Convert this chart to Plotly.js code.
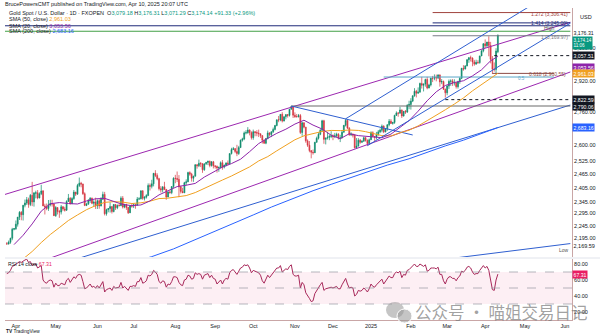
<!DOCTYPE html>
<html><head><meta charset="utf-8">
<script src="https://cdn.plot.ly/plotly-3.0.1.min.js"></script>
<style>html,body{margin:0;padding:0;background:#fff}#chart{width:600px;height:334px}</style>
</head><body><div id="chart"></div><script>
// ---------- DATA ----------
const dates = [
'2024-03-25','2024-03-26','2024-03-27','2024-03-28','2024-03-29',
'2024-04-01','2024-04-02','2024-04-03','2024-04-04','2024-04-05',
'2024-04-08','2024-04-09','2024-04-10','2024-04-11','2024-04-12',
'2024-04-15','2024-04-16','2024-04-17','2024-04-18','2024-04-19',
'2024-04-22','2024-04-23','2024-04-24','2024-04-25','2024-04-26',
'2024-04-29','2024-04-30','2024-05-01','2024-05-02','2024-05-03',
'2024-05-06','2024-05-07','2024-05-08','2024-05-09','2024-05-10',
'2024-05-13','2024-05-14','2024-05-15','2024-05-16','2024-05-17',
'2024-05-20','2024-05-21','2024-05-22','2024-05-23','2024-05-24',
'2024-05-27','2024-05-28','2024-05-29','2024-05-30','2024-05-31',
'2024-06-03','2024-06-04','2024-06-05','2024-06-06','2024-06-07',
'2024-06-10','2024-06-11','2024-06-12','2024-06-13','2024-06-14',
'2024-06-17','2024-06-18','2024-06-19','2024-06-20','2024-06-21',
'2024-06-24','2024-06-25','2024-06-26','2024-06-27','2024-06-28',
'2024-07-01','2024-07-02','2024-07-03','2024-07-04','2024-07-05',
'2024-07-08','2024-07-09','2024-07-10','2024-07-11','2024-07-12',
'2024-07-15','2024-07-16','2024-07-17','2024-07-18','2024-07-19',
'2024-07-22','2024-07-23','2024-07-24','2024-07-25','2024-07-26',
'2024-07-29','2024-07-30','2024-07-31','2024-08-01','2024-08-02',
'2024-08-05','2024-08-06','2024-08-07','2024-08-08','2024-08-09',
'2024-08-12','2024-08-13','2024-08-14','2024-08-15','2024-08-16',
'2024-08-19','2024-08-20','2024-08-21','2024-08-22','2024-08-23',
'2024-08-26','2024-08-27','2024-08-28','2024-08-29','2024-08-30',
'2024-09-02','2024-09-03','2024-09-04','2024-09-05','2024-09-06',
'2024-09-09','2024-09-10','2024-09-11','2024-09-12','2024-09-13',
'2024-09-16','2024-09-17','2024-09-18','2024-09-19','2024-09-20',
'2024-09-23','2024-09-24','2024-09-25','2024-09-26','2024-09-27',
'2024-09-30','2024-10-01','2024-10-02','2024-10-03','2024-10-04',
'2024-10-07','2024-10-08','2024-10-09','2024-10-10','2024-10-11',
'2024-10-14','2024-10-15','2024-10-16','2024-10-17','2024-10-18',
'2024-10-21','2024-10-22','2024-10-23','2024-10-24','2024-10-25',
'2024-10-28','2024-10-29','2024-10-30','2024-10-31','2024-11-01',
'2024-11-04','2024-11-05','2024-11-06','2024-11-07','2024-11-08',
'2024-11-11','2024-11-12','2024-11-13','2024-11-14','2024-11-15',
'2024-11-18','2024-11-19','2024-11-20','2024-11-21','2024-11-22',
'2024-11-25','2024-11-26','2024-11-27','2024-11-28','2024-11-29',
'2024-12-02','2024-12-03','2024-12-04','2024-12-05','2024-12-06',
'2024-12-09','2024-12-10','2024-12-11','2024-12-12','2024-12-13',
'2024-12-16','2024-12-17','2024-12-18','2024-12-19','2024-12-20',
'2024-12-23','2024-12-24','2024-12-26','2024-12-27',
'2024-12-30','2024-12-31','2025-01-02','2025-01-03',
'2025-01-06','2025-01-07','2025-01-08','2025-01-09','2025-01-10',
'2025-01-13','2025-01-14','2025-01-15','2025-01-16','2025-01-17',
'2025-01-20','2025-01-21','2025-01-22','2025-01-23','2025-01-24',
'2025-01-27','2025-01-28','2025-01-29','2025-01-30','2025-01-31',
'2025-02-03','2025-02-04','2025-02-05','2025-02-06','2025-02-07',
'2025-02-10','2025-02-11','2025-02-12','2025-02-13','2025-02-14',
'2025-02-17','2025-02-18','2025-02-19','2025-02-20','2025-02-21',
'2025-02-24','2025-02-25','2025-02-26','2025-02-27','2025-02-28',
'2025-03-03','2025-03-04','2025-03-05','2025-03-06','2025-03-07',
'2025-03-10','2025-03-11','2025-03-12','2025-03-13','2025-03-14',
'2025-03-17','2025-03-18','2025-03-19','2025-03-20','2025-03-21',
'2025-03-24','2025-03-25','2025-03-26','2025-03-27','2025-03-28',
'2025-03-31','2025-04-01','2025-04-02','2025-04-03','2025-04-04',
'2025-04-07','2025-04-08','2025-04-09','2025-04-10'];

const open = [
2172,2171,2178,2194,2230, 2232,2251,2280,2300,2290, 2330,2339,2353,2333,2372, 2344,2381,2383,2361,2379,
2391,2327,2322,2316,2332, 2337,2335,2286,2320,2303, 2301,2323,2314,2309,2346, 2360,2336,2358,2386,2377,
2415,2425,2421,2379,2329, 2334,2350,2360,2338,2343, 2327,2349,2327,2355,2376, 2294,2311,2316,2324,2303,
2333,2319,2329,2328,2360, 2322,2334,2320,2298,2327, 2326,2332,2330,2356,2357, 2392,2359,2364,2371,2415,
2411,2422,2469,2459,2445, 2401,2396,2409,2397,2365, 2387,2384,2410,2447,2446, 2442,2409,2389,2383,2427,
2431,2472,2465,2447,2456, 2508,2503,2514,2512,2485, 2512,2518,2524,2504,2521, 2503,2500,2493,2495,2517,
2497,2506,2516,2512,2559, 2578,2582,2569,2559,2587, 2622,2628,2657,2658,2671, 2658,2634,2663,2659,2656,
2653,2644,2622,2608,2630, 2657,2649,2662,2674,2693, 2721,2720,2748,2715,2736, 2747,2743,2774,2788,2744,
2737,2736,2742,2659,2706, 2685,2619,2598,2573,2565, 2563,2612,2631,2650,2670, 2716,2626,2633,2636,2640,
2643,2639,2643,2650,2632, 2633,2660,2694,2718,2680, 2648,2652,2646,2586,2594, 2622,2612,2617,2634,
2621,2606,2624,2658, 2640,2636,2649,2662,2670, 2690,2662,2677,2697,2714, 2703,2708,2743,2755,2754,
2770,2740,2763,2760,2794, 2798,2815,2842,2866,2856, 2861,2907,2897,2904,2928, 2883,2899,2935,2934,2939,
2936,2952,2915,2917,2876, 2858,2893,2918,2920,2910, 2911,2890,2916,2934,2988, 2984,3001,3035,3046,3044,
3023,3011,3020,3019,3056, 3085,3124,3113,3134,3114, 3037,2983,2982,3079.18];

const high = [
2179,2185,2196,2236,2234, 2266,2280,2305,2305,2330, 2354,2365,2362,2378,2431, 2384,2392,2395,2385,2418,
2395,2336,2337,2352,2353, 2353,2336,2326,2320,2310, 2331,2326,2323,2351,2378, 2364,2364,2395,2387,2422,
2450,2431,2423,2385,2340, 2356,2364,2362,2351,2362, 2354,2355,2364,2388,2387, 2315,2317,2342,2325,2335,
2334,2333,2335,2368,2369, 2334,2335,2323,2329,2339, 2337,2335,2365,2364,2392, 2393,2368,2377,2424,2424,
2440,2470,2483,2469,2449, 2412,2411,2431,2400,2389, 2393,2412,2451,2462,2477, 2461,2413,2405,2431,2442,
2476,2478,2471,2458,2509, 2509,2531,2520,2515,2513, 2521,2526,2526,2524,2525, 2504,2504,2500,2523,2529,
2508,2518,2527,2560,2586, 2590,2585,2600,2595,2625, 2634,2664,2670,2685,2674, 2665,2673,2665,2670,2673,
2654,2645,2625,2633,2668, 2660,2665,2683,2696,2722, 2740,2749,2759,2738,2748, 2749,2775,2790.06,2789,2758,
2750,2750,2750,2711,2709, 2686,2626,2618,2575,2578, 2614,2639,2660,2675,2721, 2721,2634,2661,2649,2665,
2650,2657,2658,2656,2648, 2668,2695,2726,2722,2685, 2660,2653,2652,2632,2632, 2628,2622,2639,2637,
2626,2630,2665,2665, 2642,2662,2671,2678,2698, 2694,2679,2698,2725,2724, 2711,2746,2763,2758,2786,
2772,2765,2770,2799,2817, 2830,2845,2882,2873,2886, 2911,2942,2906,2932,2942, 2905,2936,2947,2955,2954,
2956,2955,2930,2922,2880, 2898,2928,2929,2930,2929, 2913,2921,2940,2990,3005, 3005,3038,3050,3057.51,3048,
3034,3035,3032,3055,3087, 3128,3149,3135,3167,3135, 3055,3020,3099,3176.31];

const low = [
2170.5,2169.59,2172,2186,2226, 2228,2241,2268,2267,2266, 2321,2331,2319,2326,2326, 2324,2359,2355,2359,2373,
2326,2291,2309,2306,2325, 2324,2285,2281,2291,2277, 2291,2306,2303,2306,2345, 2333,2335,2353,2369,2375,
2408,2407,2374,2326,2326, 2333,2340,2334,2323,2314, 2314,2315,2325,2353,2287, 2286,2300,2299,2295,2300,
2310,2313,2325,2327,2316, 2317,2310,2293,2297,2319, 2318,2315,2330,2353,2355, 2353,2350,2358,2370,2393,
2402,2411,2452,2438,2393, 2384,2385,2397,2353,2364, 2379,2377,2404,2425,2430, 2364,2380,2382,2382,2415,
2430,2458,2432,2431,2455, 2490,2497,2497,2471,2480, 2507,2506,2496,2499,2491, 2490,2472,2476,2493,2485,
2491,2500,2505,2510,2555, 2575,2561,2547,2553,2586, 2615,2622,2650,2653,2645, 2625,2624,2641,2641,2637,
2633,2606,2604,2603,2626, 2640,2637,2657,2669,2689, 2709,2714,2708,2713,2723, 2732,2737,2772,2730,2731,
2733,2733,2652,2643,2679, 2610,2590,2565,2537,2554, 2562,2611,2625,2646,2662, 2605,2602,2625,2622,2632,
2622,2632,2637,2625,2613, 2631,2659,2688,2677,2643, 2642,2635,2583,2584,2592, 2605,2610,2615,2615,
2596,2605,2623,2636, 2614,2626,2643,2656,2660, 2656,2660,2667,2689,2701, 2697,2701,2741,2736,2752,
2730,2737,2750,2755,2774, 2772,2810,2838,2834,2853, 2860,2880,2865,2890,2876, 2881,2891,2914,2924,2918,
2930,2890,2903,2874,2833, 2845,2878,2894,2894,2896, 2880,2880,2905,2930,2975, 2982,2999,3018,3025,2999,
3002,3007,3012,3013,3055, 3076,3100,3105,3054,3015, 2957,2970,2957,3071.29];

const close = [
2171,2178,2194,2230,2233, 2251,2280,2300,2290,2330, 2339,2353,2333,2372,2344, 2383,2383,2361,2379,2391,
2327,2322,2316,2332,2337, 2335,2286,2320,2303,2301, 2323,2314,2309,2346,2360, 2336,2358,2386,2377,2415,
2425,2421,2379,2329,2334, 2350,2360,2338,2343,2327, 2349,2327,2355,2376,2294, 2311,2316,2324,2303,2333,
2319,2329,2328,2360,2322, 2334,2320,2298,2327,2326, 2332,2330,2356,2357,2392, 2359,2364,2371,2415,2411,
2422,2469,2459,2445,2401, 2396,2409,2397,2365,2387, 2384,2410,2447,2446,2442, 2409,2389,2383,2427,2431,
2472,2465,2447,2456,2508, 2503,2514,2512,2485,2512, 2518,2524,2504,2521,2503, 2500,2493,2495,2517,2497,
2506,2516,2512,2559,2578, 2582,2569,2559,2587,2622, 2628,2657,2658,2671,2658, 2634,2663,2659,2656,2653,
2644,2622,2608,2630,2657, 2649,2662,2674,2693,2721, 2720,2748,2715,2736,2747, 2743,2774,2788,2744,2736,
2736,2742,2659,2706,2685, 2619,2598,2573,2565,2563, 2612,2631,2650,2670,2716, 2626,2633,2636,2640,2643,
2639,2643,2650,2632,2633, 2660,2694,2718,2680,2648, 2652,2646,2586,2594,2622, 2612,2617,2634,2621,
2606,2624,2658,2640, 2636,2649,2662,2670,2690, 2662,2677,2697,2714,2703, 2708,2743,2755,2754,2770,
2740,2763,2760,2794,2798, 2815,2842,2866,2856,2861, 2907,2897,2904,2928,2883, 2899,2935,2934,2939,2936,
2952,2915,2917,2876,2858, 2893,2918,2920,2910,2911, 2890,2916,2934,2988,2984, 3001,3035,3046,3044,3023,
3011,3020,3019,3056,3085, 3124,3113,3134,3114,3037, 2983,2982,3082.81,3174.14];

const rsi = [
68,69,72,77,78, 80,82,83,82,84, 85,86,82,83,78, 80,80,75,77,78,
60,57,56,59,60, 59,51,56,53,53, 56,55,54,60,62, 57,61,64,62,66,
67,66,58,49,50, 53,55,51,52,50, 53,50,55,58,45, 48,49,50,47,52,
50,51,51,57,50, 52,50,47,52,52, 53,52,58,58,63, 56,57,59,66,65,
67,72,70,67,58, 56,59,58,51,55, 54,58,64,64,63, 57,54,53,60,61,
66,65,61,62,69, 67,68,67,61,66, 67,68,63,66,62, 61,55,57,60,55,
60,62,61,69,72, 73,70,67,71,75, 76,79,78,79,75, 69,72,71,70,69,
66,59,56,61,66, 63,66,68,71,75, 75,78,70,72,74, 73,77,79,67,65,
65,66,50,57,54, 44,41,37,33,34, 43,47,51,54,57, 47,49,50,50,51,
50,51,52,49,49, 54,59,62,55,50, 51,50,40,42,47, 46,47,50,48,
45,49,55,52, 51,54,56,58,61, 55,58,61,65,63, 63,68,70,69,71,
63,67,66,72,73, 75,78,80,77,77, 80,78,77,79,71, 72,75,75,75,74,
76,67,67,59,55, 61,64,64,62,62, 59,63,65,71,70, 72,76,77,75,70,
67,68,68,72,75, 78,75,77,72,59, 48,47,60,67.31];

// moving averages
const smaDates = ['2024-03-29','2024-04-05','2024-04-12','2024-04-19','2024-04-26','2024-05-03','2024-05-10','2024-05-17','2024-05-24','2024-05-31',
'2024-06-07','2024-06-14','2024-06-21','2024-06-28','2024-07-05','2024-07-12','2024-07-19','2024-07-26','2024-08-02','2024-08-09',
'2024-08-16','2024-08-23','2024-08-30','2024-09-06','2024-09-13','2024-09-20','2024-09-27','2024-10-04','2024-10-11','2024-10-18',
'2024-10-25','2024-11-01','2024-11-08','2024-11-15','2024-11-22','2024-11-29','2024-12-06','2024-12-13','2024-12-20','2024-12-27',
'2025-01-03','2025-01-10','2025-01-17','2025-01-24','2025-01-31','2025-02-07','2025-02-14','2025-02-21','2025-02-28','2025-03-07',
'2025-03-14','2025-03-21','2025-03-28','2025-04-04','2025-04-10'];
const sma20 = [2169,2206,2252,2305,2336,2341,2337,2335,2348,2357, 2359,2345,2333,2328,2331,2348,2374,2392,2410,2416,
2424,2452,2474,2497,2513,2533,2568,2606,2631,2655, 2675,2700,2719,2695,2676,2646,2629,2653,2644,2641,
2638,2634,2651,2683,2717,2764,2817,2863,2896,2912, 2921,2947,2980,3029,3053.56];
const sma50 = [2085,2112,2142,2177,2209,2237,2266,2289,2311,2328, 2342,2345,2343,2337,2340,2347,2358,2360,2365,2371,
2384,2403,2421,2439,2457,2477,2498,2525,2545,2572, 2599,2624,2643,2652,2664,2669,2668,2671,2669,2663,
2653,2644,2642,2658,2670,2691,2717,2742,2771,2800, 2831,2868,2902,2938,2961.03];
const sma200Dates = ['2024-06-28','2024-07-15','2024-07-31','2024-08-15','2024-08-30','2024-09-16','2024-10-01','2024-10-15','2024-10-31','2024-11-15',
'2024-11-29','2024-12-13','2024-12-31','2025-01-15','2025-01-31','2025-02-14','2025-02-28','2025-03-14','2025-03-31','2025-04-10'];
const sma200 = [2100,2122,2152,2185,2218,2255,2289,2322,2360,2392,2420,2447,2478,2506,2535,2565,2595,2622,2658,2683.16];

// drawn trend lines: [start date, end date], [start price, end price]
const purpleUpperX = ['2024-03-22','2025-06-05'], purpleUpperY = [2376, 3249];
const purpleLowerX = ['2024-03-22','2025-06-05'], purpleLowerY = [2055, 2968];
const blueAX = ['2024-03-22','2025-06-05'], blueAY = [2029, 2795];
const blueCX = ['2024-03-22','2025-06-05'], blueCY = [1911, 2173];
const blueDownX = ['2024-10-30','2025-02-04'], blueDownY = [2790.06, 2647];
const steepUpperX = ['2024-12-11','2025-06-05'], steepUpperY = [2726, 3499];
const steepLowerX = ['2024-12-30','2025-06-05'], steepLowerY = [2596, 3243];
const level2790X = ['2024-10-30','2025-06-05'], level2790Y = [2790.06, 2790.06];
const level2822X = ['2025-02-28','2025-06-05'], level2822Y = [2822.59, 2822.59];
const level3057X = ['2025-04-08','2025-06-05'], level3057Y = [3057.51, 3057.51];
const fibTopX = ['2025-02-19','2025-06-05'];
const fib1272Y = [3306.41, 3306.41];
const fib1414Y = [3245, 3245];
const navyLongX = ['2024-03-22','2025-06-05'], navyLongY = [3228, 3228];
const greenLongX = ['2024-03-22','2025-06-05'], greenLongY = [3196, 3196];
const fibHighX = ['2025-02-19','2025-06-05'], fibHighY = [3169.97, 3169.97];
const fib618X = ['2025-04-07','2025-05-23'], fib618Y = [2960.55, 2960.55];
const fibTealX = ['2025-01-13','2025-05-23'], fibTealY = [2941, 2941];

const tickDates = ['2024-04-01','2024-05-01','2024-06-03','2024-07-01','2024-08-01','2024-09-02','2024-10-01','2024-11-01','2024-12-02','2025-01-02','2025-02-03','2025-03-03','2025-04-01','2025-05-01','2025-06-02'];
const tickLabels = ['Apr','May','Jun','Jul','Aug','Sep','Oct','Nov','Dec','2025','Feb','Mar','Apr','May','Jun'];
const priceTicks = [2195,2245,2295,2345,2405,2465,2525,2600,2760,2920,3100];
const rsiTicks = [20,40,60,80];

// ---------- CHART ----------
const fmt = v => v.toLocaleString('en-US',{minimumFractionDigits:2, maximumFractionDigits:2});
const FONT = 'Liberation Sans, Arial, sans-serif';
const W = 567, H = 312, L0 = 5, B0 = 320;
const px = x => (x - L0) / W;       // label placement helpers (text only)
const py = y => (B0 - y) / H;

function line(x, y, color, width, dash, yaxis) {
  return {type:'scatter', mode:'lines', x:x, y:y, xaxis:'x', yaxis:yaxis||'y',
    line:{color:color, width:width||1, dash:dash||'solid'}, hoverinfo:'skip'};
}

const traces = [
  line(blueCX, blueCY, '#2f5fd0', 1),
  line(blueAX, blueAY, '#2f5fd0', 1),
  line(sma200Dates, sma200, '#2962ff', 1),
  line(purpleLowerX, purpleLowerY, '#9c27b0', 1),
  line(purpleUpperX, purpleUpperY, '#9c27b0', 1),
  line(navyLongX, navyLongY, '#1f2a78', 1),
  line(greenLongX, greenLongY, '#43a047', 1),
  line(fibTopX, fib1272Y, '#a0443e', 1),
  line(fibTopX, fib1414Y, '#1f2a78', 1),
  line(fibHighX, fibHighY, '#787b86', 1),
  line(fibTealX, fibTealY, '#5aa7c8', 1),
  line(fib618X, fib618Y, '#8d4b45', 1),
  line(level2790X, level2790Y, '#6b6b6b', 1.2),
  line(level2822X, level2822Y, '#131722', 1, 'dot'),
  line(level3057X, level3057Y, '#131722', 1, 'dot'),
  line(blueDownX, blueDownY, '#2f5fd0', 1),
  line(smaDates, sma50, '#f0a020', 1),
  line(smaDates, sma20, '#8e24aa', 1),
  {type:'candlestick', x:dates, open:open, high:high, low:low, close:close, xaxis:'x', yaxis:'y',
   increasing:{line:{color:'#0b8a6a', width:0.7}, fillcolor:'#0b8a6a'},
   decreasing:{line:{color:'#d6343f', width:0.7}, fillcolor:'#d6343f'},
   whiskerwidth:0, hoverinfo:'skip'},
  line(steepUpperX, steepUpperY, '#2f5fd0', 1),
  line(steepLowerX, steepLowerY, '#2f5fd0', 1),
  line(dates, rsi, '#a8285a', 1, 'solid', 'y2')
];

const shapes = [
  {type:'rect', xref:'paper', yref:'y2', x0:0, x1:1, y0:30, y1:70, fillcolor:'rgba(233,30,99,0.07)', line:{width:0}, layer:'below'},
  {type:'line', xref:'paper', yref:'y2', x0:0, x1:1, y0:70, y1:70, line:{color:'#9598a1', width:0.7, dash:'dash'}},
  {type:'line', xref:'paper', yref:'y2', x0:0, x1:1, y0:50, y1:50, line:{color:'#9598a1', width:0.7, dash:'dash'}},
  {type:'line', xref:'paper', yref:'y2', x0:0, x1:1, y0:30, y1:30, line:{color:'#9598a1', width:0.7, dash:'dash'}},
  {type:'line', xref:'paper', yref:'paper', x0:0, x1:1.05, y0:py(258), y1:py(258), line:{color:'#e0e3eb', width:1}},
  // watermark logo (WeChat-like bubbles)
  {type:'circle', xref:'paper', yref:'paper', x0:px(386), x1:px(404), y0:py(318), y1:py(302), fillcolor:'rgba(150,150,150,0.55)', line:{width:0}},
  {type:'circle', xref:'paper', yref:'paper', x0:px(397), x1:px(412), y0:py(323), y1:py(309), fillcolor:'rgba(150,150,150,0.55)', line:{color:'#fff', width:1}}
];

function axLabel(price, text, bg, color, yref, yval, size) {
  return {xref:'paper', x:1, xanchor:'left', xshift:0, yref:yref||'y', y: yval!==undefined ? yval : Math.log10(price),
    text:text, showarrow:false, font:{family:FONT, size:size||5.5, color:color||'#fff'}, bgcolor:bg, borderpad:0.5, align:'left'};
}
function txt(x, y, text, size, color, anchor, family) {
  return {xref:'paper', yref:'paper', x:px(x), y:py(y), xanchor:anchor||'left', yanchor:'middle',
    text:text, showarrow:false, font:{family:family||FONT, size:size||5.5, color:color||'#131722'}};
}
const G = '#089981';
const annotations = [
  txt(3, 3.5, 'BrucePowersCMT published on TradingView.com, Apr 10, 2025 20:07 UTC', 5.5),
  txt(7, 13, 'Gold Spot / U.S. Dollar · 1D · FXOPEN  O<span style="color:'+G+'">3,079.18</span> H<span style="color:'+G+'">3,176.31</span> L<span style="color:'+G+'">3,071.29</span> C<span style="color:'+G+'">3,174.14</span> <span style="color:'+G+'">+91.33 (+2.96%)</span>', 5.5),
  txt(7, 19.5, 'SMA (50, close) <span style="color:#f0a020">'+fmt(sma50[sma50.length-1])+'</span>', 5.5),
  txt(7, 25.5, 'SMA (20, close) <span style="color:#8e24aa">'+fmt(sma20[sma20.length-1])+'</span>', 5.5),
  txt(7, 31.5, 'SMA (200, close) <span style="color:#2962ff">'+fmt(sma200[sma200.length-1])+'</span>', 5.5),
  // fib labels
  txt(570, 13.5, '1.272 (3,306.41)', 5, '#a0443e', 'right'),
  txt(570, 23, '1.414 (3,245.00)', 5, '#1f2a78', 'right'),
  txt(557, 28.5, 'High', 5, '#555', 'right'),
  txt(570, 37, '1 (3,169.97)', 5, '#787b86', 'right'),
  txt(568, 73.5, '0.618 (2,960.55)', 5, '#8d4b45', 'right'),
  txt(527, 78.5, '0.5', 4.5, '#5aa7c8', 'right'),
  // right scale labels
  txt(578, 17, 'USD', 5.5, '#131722'),
  axLabel(null, fmt(high[high.length-1]), 'rgba(0,0,0,0)', '#131722', 'paper', py(27.5), 5.2),
  axLabel(null, fmt(close[close.length-1])+'<br>11:06', G, '#fff', 'paper', py(35.5), 4.6),
  axLabel(3057.51, fmt(3057.51), '#131722', '#fff', 'y', undefined, 5.2),
  axLabel(null, fmt(sma20[sma20.length-1]), '#8e24aa', '#fff', 'paper', py(63), 5.2),
  axLabel(2961.03, fmt(sma50[sma50.length-1]), '#f0a020', '#fff', 'y', undefined, 5.2),
  axLabel(2822.59, fmt(2822.59), '#131722', '#fff', 'y', undefined, 5.2),
  axLabel(2790.06, fmt(2790.06), '#131722', '#fff', 'y', undefined, 5.2),
  axLabel(2683.16, fmt(sma200[sma200.length-1]), '#2962ff', '#fff', 'y', undefined, 5.2),
  axLabel(null, fmt(2169.59), 'rgba(0,0,0,0)', '#131722', 'paper', py(250)),
  txt(571, 250, 'Low', 5, '#555', 'right'),
  axLabel(null, fmt(rsi[rsi.length-1]), '#e91e63', '#fff', 'y2', 67.31, 5.2),
  // RSI legend
  txt(6, 264, 'RSI 14 close <span style="color:#e91e63">67.31</span>', 5.2),
  // watermark and logo
  txt(413, 312, '公众号 · 喵姐交易日记', 16.5, 'rgba(120,120,120,0.7)', 'left', 'Noto Sans CJK SC'),
  txt(4, 331.5, '<b>TV</b> TradingView', 4.8, '#131722')
];

const layout = {
  width:600, height:334, margin:{l:5, r:28, t:8, b:14},
  paper_bgcolor:'#ffffff', plot_bgcolor:'#ffffff', showlegend:false,
  font:{family:FONT, size:5.5, color:'#131722'},
  xaxis:{type:'date', range:['2024-03-22','2025-06-05 22:00'],
    rangebreaks:[{bounds:['sat','mon']},{values:['2024-12-25','2025-01-01']}],
    tickmode:'array', tickvals:tickDates, ticktext:tickLabels, tickfont:{size:5.5, color:'#131722'},
    showgrid:false, zeroline:false, showline:true, linecolor:'#c9a6a6', linewidth:1, ticks:'',
    rangeslider:{visible:false}, anchor:'y2', fixedrange:true},
  yaxis:{type:'log', domain:[py(257), 1], range:[Math.log10(2120.6), Math.log10(3334)], side:'right',
    tickmode:'array', tickvals:priceTicks, ticktext:priceTicks.map(fmt), tickfont:{size:5.5, color:'#131722'},
    showgrid:false, zeroline:false, showline:true, linecolor:'#c9a6a6', ticks:'', anchor:'x'},
  yaxis2:{domain:[0, py(259)], range:[10, 86.25], side:'right', tickmode:'array', tickvals:rsiTicks,
    ticktext:rsiTicks.map(fmt), tickfont:{size:5.5, color:'#131722'}, showgrid:false, zeroline:false,
    showline:true, linecolor:'#c9a6a6', ticks:'', anchor:'x'},
  shapes:shapes, annotations:annotations
};
Plotly.newPlot('chart', traces, layout, {staticPlot:true, displayModeBar:false});
</script></body></html>
